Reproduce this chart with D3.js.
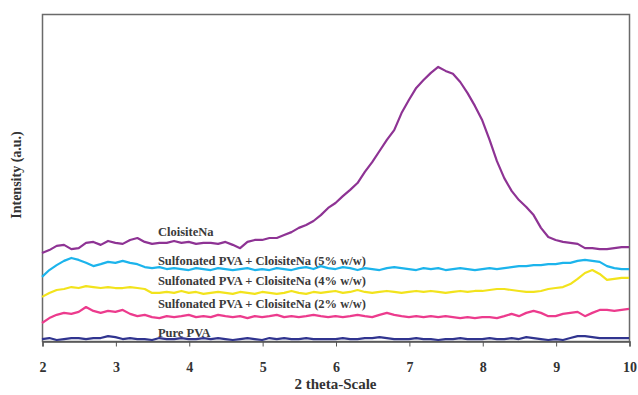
<!DOCTYPE html>
<html lang="en">

<head>
    <meta charset="UTF-8">
    <title>XRD patterns</title>
    <style>
        body { margin: 0; background: #fff; }
    </style>
</head>

<body>
    <script src="https://cdn.jsdelivr.net/npm/d3@7"></script>
    <script>
        const svg_w = 638;
        const svg_h = 395;

        // 2 theta sampling points
        const theta = [
            2.0, 2.1, 2.2, 2.3, 2.4, 2.5, 2.6, 2.7, 2.8, 2.9,
            3.0, 3.1, 3.2, 3.3, 3.4, 3.5, 3.6, 3.7, 3.8, 3.9,
            4.0, 4.1, 4.2, 4.3, 4.4, 4.5, 4.6, 4.7, 4.8, 4.9,
            5.0, 5.1, 5.2, 5.3, 5.4, 5.5, 5.6, 5.7, 5.8, 5.9,
            6.0, 6.1, 6.2, 6.3, 6.4, 6.5, 6.6, 6.7, 6.8, 6.9,
            7.0, 7.1, 7.2, 7.3, 7.4, 7.5, 7.6, 7.7, 7.8, 7.9,
            8.0, 8.1, 8.2, 8.3, 8.4, 8.5, 8.6, 8.7, 8.8, 8.9,
            9.0, 9.1, 9.2, 9.3, 9.4, 9.5, 9.6, 9.7, 9.8, 9.9,
            10.0
        ];

        const cloisite = [
            26.9, 27.8, 29.1, 29.4, 28.1, 28.4, 30.0, 30.3, 29.4, 30.6,
            30.0, 29.7, 30.9, 31.5, 30.3, 29.7, 30.0, 30.0, 30.6, 30.0,
            30.3, 29.7, 30.0, 30.0, 29.7, 30.3, 29.4, 28.4, 30.3, 30.9,
            30.9, 31.5, 31.5, 32.4, 33.3, 34.6, 35.5, 36.7, 38.5, 40.7,
            42.2, 44.3, 46.2, 48.3, 51.7, 54.7, 58.1, 61.5, 64.5, 69.7,
            73.7, 77.4, 79.8, 82.0, 83.8, 82.6, 81.7, 79.2, 75.8, 71.9,
            67.5, 61.5, 55.0, 49.8, 45.9, 43.1, 41.0, 38.5, 34.6, 31.8,
            30.9, 30.3, 30.0, 29.7, 28.4, 28.4, 28.1, 28.1, 28.4, 28.7,
            28.7
        ];

        const clay5 = [
            19.6, 21.7, 23.2, 24.5, 25.4, 24.8, 23.9, 22.9, 23.5, 24.2,
            23.9, 24.5, 23.9, 23.5, 22.6, 22.3, 22.6, 22.0, 22.3, 22.0,
            21.7, 22.3, 22.0, 21.7, 22.3, 22.0, 21.7, 22.0, 22.3, 21.7,
            22.0, 21.7, 22.3, 22.0, 21.7, 22.3, 22.6, 22.0, 22.9, 22.3,
            22.0, 22.6, 22.3, 21.7, 22.3, 22.0, 21.7, 22.3, 22.6, 22.3,
            22.0, 21.7, 22.3, 22.0, 22.3, 21.7, 22.0, 22.3, 22.0, 21.7,
            22.0, 22.3, 22.0, 22.3, 22.6, 22.9, 22.9, 23.2, 23.2, 23.5,
            23.5, 23.9, 23.9, 24.5, 24.8, 24.5, 24.2, 22.9, 22.3, 22.0,
            22.0
        ];

        const clay4 = [
            13.5, 14.7, 15.6, 15.9, 16.5, 16.2, 16.8, 16.5, 16.2, 16.5,
            16.2, 16.2, 16.5, 16.2, 15.9, 14.7, 14.7, 15.0, 14.7, 15.3,
            14.7, 15.0, 14.4, 14.7, 15.0, 14.7, 14.4, 15.0, 14.7, 14.4,
            15.0, 14.7, 14.4, 14.7, 15.3, 14.7, 14.4, 15.0, 14.7, 15.0,
            15.3, 14.7, 15.0, 15.6, 15.0, 14.7, 15.0, 15.3, 15.0, 14.7,
            15.0, 15.3, 15.0, 15.3, 15.0, 14.7, 15.0, 15.3, 15.0, 15.3,
            15.3, 15.6, 15.9, 15.9, 15.6, 15.3, 15.0, 15.0, 15.3, 15.9,
            16.2, 16.5, 17.4, 19.0, 20.8, 21.7, 20.5, 18.7, 19.0, 19.3,
            19.3
        ];

        const clay2 = [
            5.5, 7.0, 8.0, 8.6, 8.3, 8.9, 10.4, 9.2, 8.6, 9.2,
            8.9, 9.5, 8.3, 7.6, 8.0, 7.3, 7.0, 7.6, 7.3, 7.6,
            8.0, 7.3, 7.6, 7.3, 8.0, 7.6, 7.3, 7.6, 7.0, 7.6,
            7.3, 7.6, 8.0, 7.3, 7.6, 7.3, 7.6, 8.0, 7.6, 7.3,
            7.6, 7.3, 7.6, 8.0, 7.6, 7.3, 8.0, 8.6, 8.0, 7.6,
            7.3, 7.6, 7.3, 7.6, 7.3, 7.6, 7.3, 7.0, 7.3, 7.0,
            7.3, 7.3, 7.0, 7.6, 8.3, 7.6, 8.6, 9.2, 8.6, 7.6,
            7.6, 8.3, 8.6, 8.9, 7.6, 8.6, 9.5, 9.5, 9.2, 9.5,
            9.8
        ];

        const purePVA = [
            0.6, 0.9, 0.3, 0.6, 0.9, 0.9, 0.6, 0.9, 0.9, 1.5,
            1.2, 0.6, 0.9, 0.6, 0.6, 0.3, 0.9, 0.6, 0.6, 0.9,
            0.6, 0.6, 0.9, 0.6, 0.9, 0.6, 0.3, 0.6, 0.9, 0.6,
            0.3, 0.9, 0.6, 0.9, 0.6, 0.6, 0.9, 0.6, 0.6, 0.6,
            0.6, 0.9, 0.6, 0.6, 0.9, 0.9, 1.2, 0.9, 0.6, 0.6,
            0.6, 0.9, 0.6, 0.6, 0.3, 0.6, 0.6, 0.9, 0.6, 0.6,
            0.6, 0.9, 0.6, 0.6, 0.9, 0.6, 1.2, 0.9, 0.6, 0.3,
            0.6, 0.3, 0.9, 1.5, 1.5, 1.2, 0.9, 0.9, 0.9, 0.9,
            0.9
        ];

        const series_names = [
            'CloisiteNa',
            'Sulfonated PVA + CloisiteNa (5% w/w)',
            'Sulfonated PVA + CloisiteNa (4% w/w)',
            'Sulfonated PVA + CloisiteNa (2% w/w)',
            'Pure PVA'
        ];
        const series_values = [cloisite, clay5, clay4, clay2, purePVA];
        const series_colors = ['#8e3394', '#1cb4ec', '#f2e31c', '#ec3b8d', '#30348f'];
        // where each caption sits, in data units
        const label_theta = 3.58;
        const label_level = [32.1, 23.2, 17.1, 10.1, 1.2];

        const x_ticks = [2, 3, 4, 5, 6, 7, 8, 9, 10];

        const margin = { top: 14, right: 9, bottom: 54, left: 42 };
        const plot_w = svg_w - margin.left - margin.right;
        const plot_h = svg_h - margin.top - margin.bottom;

        const svg = d3.select('body')
            .append('svg')
            .attr('width', svg_w)
            .attr('height', svg_h)
            .style('display', 'block');

        const g = svg.append('g')
            .attr('transform', `translate(${margin.left},${margin.top})`);

        const x = d3.scaleLinear().domain([2, 10]).range([0, plot_w]);
        const y = d3.scaleLinear().domain([0, 100]).range([plot_h, 0]);

        // frame
        g.append('rect')
            .attr('x', 0.5)
            .attr('y', 0.5)
            .attr('width', plot_w)
            .attr('height', plot_h)
            .attr('fill', 'none')
            .attr('stroke', '#6a6a6a')
            .attr('stroke-width', 1.5);

        const x_axis = g.append('g')
            .attr('transform', `translate(0.5,${plot_h + 0.5})`)
            .call(d3.axisBottom(x).tickValues(x_ticks).tickSize(5).tickPadding(16).tickFormat(d3.format('d')));
        x_axis.select('.domain').attr('stroke', '#555').attr('stroke-width', 1.5);
        x_axis.selectAll('.tick line').attr('stroke', '#555');
        x_axis.selectAll('.tick text')
            .attr('font-family', '"Liberation Serif", "Times New Roman", serif')
            .attr('font-weight', 'bold')
            .attr('font-size', '14px')
            .attr('fill', '#333');

        const line = d3.line()
            .x((d, i) => x(theta[i]))
            .y(d => y(d));

        g.selectAll('path.curve')
            .data(series_values)
            .enter()
            .append('path')
            .attr('class', 'curve')
            .attr('d', d => line(d))
            .attr('fill', 'none')
            .attr('stroke', (d, i) => series_colors[i])
            .attr('stroke-width', 2.2)
            .attr('stroke-linejoin', 'round');

        g.selectAll('text.caption')
            .data(series_names)
            .enter()
            .append('text')
            .attr('class', 'caption')
            .text(d => d)
            .attr('x', x(label_theta))
            .attr('y', (d, i) => y(label_level[i]))
            .attr('font-family', '"Liberation Serif", "Times New Roman", serif')
            .attr('font-weight', 'bold')
            .attr('font-size', '12.5px')
            .attr('fill', '#3a3a3a');

        svg.append('text')
            .text('2 theta-Scale')
            .attr('x', margin.left + plot_w / 2)
            .attr('y', 389)
            .attr('text-anchor', 'middle')
            .attr('font-family', '"Liberation Serif", "Times New Roman", serif')
            .attr('font-weight', 'bold')
            .attr('font-size', '15px')
            .attr('fill', '#333');

        svg.append('text')
            .text('Intensity (a.u.)')
            .attr('transform', 'translate(21,175) rotate(-90)')
            .attr('text-anchor', 'middle')
            .attr('font-family', '"Liberation Serif", "Times New Roman", serif')
            .attr('font-weight', 'bold')
            .attr('font-size', '14px')
            .attr('fill', '#333');
    </script>
</body>

</html>
